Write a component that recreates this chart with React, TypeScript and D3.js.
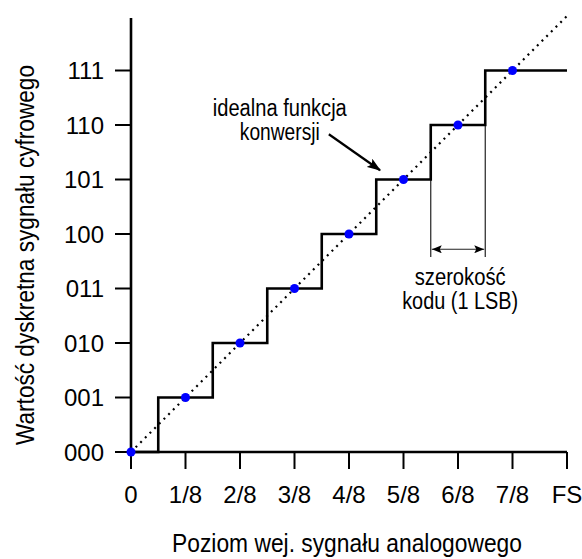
import React from "react";
import * as d3 from "d3";

const xTickLabels = ["0", "1/8", "2/8", "3/8", "4/8", "5/8", "6/8", "7/8", "FS"];
const yTickLabels = ["000", "001", "010", "011", "100", "101", "110", "111"];
const idealCodes = [0, 1, 2, 3, 4, 5, 6, 7];
const transitions = [0.5, 1.5, 2.5, 3.5, 4.5, 5.5, 6.5];
const fullScale = 8;

const xTitle = "Poziom wej. sygnału analogowego";
const yTitle = "Wartość dyskretna sygnału cyfrowego";
const annotLines = ["idealna funkcja", "konwersji"];
const widthLines = ["szerokość", "kodu (1 LSB)"];

const W = 582;
const H = 559;
const FONT = "'Liberation Sans Narrow', 'Liberation Sans', Arial, sans-serif";
const TICKFONT = "'Liberation Sans', Arial, sans-serif";

export default function App() {
  const x = d3.scaleLinear().domain([0, fullScale]).range([131, 567]);
  const y = d3.scaleLinear().domain([0, fullScale]).range([452, 16]);

  const stairPts: [number, number][] = [[0, 0]];
  transitions.forEach((t, i) => stairPts.push([t, i + 1]));
  stairPts.push([fullScale, idealCodes[idealCodes.length - 1]]);
  const stair = d3
    .line<[number, number]>()
    .x((d) => x(d[0]))
    .y((d) => y(d[1]))
    .curve(d3.curveStepAfter)(stairPts);

  const ideal = d3
    .line<[number, number]>()
    .x((d) => x(d[0]))
    .y((d) => y(d[1]))([
    [0, 0],
    [fullScale, fullScale],
  ]);

  const t5 = transitions[5];
  const t6 = transitions[6];

  return (
    <svg
      width={W}
      height={H}
      style={{ position: "absolute", left: 0, top: 0, background: "#fff" }}
      fontFamily={FONT}
    >
      <defs>
        <marker id="bigArrow" viewBox="0 0 14 10" refX="13" refY="5" markerWidth="14" markerHeight="10" markerUnits="userSpaceOnUse" orient="auto">
          <path d="M0,0 L14,5 L0,10 L3,5 Z" fill="#000" />
        </marker>
        <marker id="smallArrowEnd" viewBox="0 0 10 8" refX="10" refY="4" markerWidth="10" markerHeight="8" markerUnits="userSpaceOnUse" orient="auto">
          <path d="M0,0 L10,4 L0,8 L2,4 Z" fill="#000" />
        </marker>
        <marker id="smallArrowStart" viewBox="0 0 10 8" refX="0" refY="4" markerWidth="10" markerHeight="8" markerUnits="userSpaceOnUse" orient="auto">
          <path d="M10,0 L0,4 L10,8 L8,4 Z" fill="#000" />
        </marker>
      </defs>

      {/* ideal dotted line */}
      <path d={ideal || ""} stroke="#000" strokeWidth={2.2} strokeDasharray="2,4.6" fill="none" />

      {/* width indicator thin lines */}
      <line x1={x(t5)} x2={x(t5)} y1={y(5)} y2={y(3.58)} stroke="#222" strokeWidth={1.2} />
      <line x1={x(t6)} x2={x(t6)} y1={y(6)} y2={y(3.58)} stroke="#222" strokeWidth={1.2} />
      <line
        x1={x(t5) + 1}
        x2={x(t6) - 1}
        y1={y(3.72)}
        y2={y(3.72)}
        stroke="#222"
        strokeWidth={1.2}
        markerStart="url(#smallArrowStart)"
        markerEnd="url(#smallArrowEnd)"
      />

      {/* staircase */}
      <path d={stair || ""} stroke="#000" strokeWidth={2.6} fill="none" />

      {/* axes */}
      <line x1={x(0)} x2={x(0)} y1={18} y2={y(0)} stroke="#000" strokeWidth={2.6} />
      <line x1={x(0)} x2={x(fullScale)} y1={y(0)} y2={y(0)} stroke="#000" strokeWidth={2.6} />

      {xTickLabels.map((lab, i) => (
        <g key={lab}>
          <line x1={x(i)} x2={x(i)} y1={y(0)} y2={y(0) + 17} stroke="#000" strokeWidth={2} />
          <text x={x(i)} y={503} textAnchor="middle" fontSize={24} fontFamily={TICKFONT}>
            {lab}
          </text>
        </g>
      ))}
      {yTickLabels.map((lab, i) => (
        <g key={lab}>
          <line x1={x(0) - 16} x2={x(0)} y1={y(i)} y2={y(i)} stroke="#000" strokeWidth={2} />
          <text x={104} y={y(i) + 8.5} textAnchor="end" fontSize={24} fontFamily={TICKFONT}>
            {lab}
          </text>
        </g>
      ))}

      {/* ideal points */}
      {idealCodes.map((k) => (
        <circle key={k} cx={x(k)} cy={y(k)} r={4.5} fill="#0000ff" />
      ))}

      {/* annotation: ideal function */}
      <text x={x(2.73)} y={y(6.16)} textAnchor="middle" fontSize={23} textLength={134} lengthAdjust="spacingAndGlyphs">
        {annotLines[0]}
      </text>
      <text x={x(2.73)} y={y(5.72)} textAnchor="middle" fontSize={23} textLength={80} lengthAdjust="spacingAndGlyphs">
        {annotLines[1]}
      </text>
      <line x1={x(3.63)} y1={y(5.83)} x2={x(4.57)} y2={y(5.17)} stroke="#000" strokeWidth={2.2} markerEnd="url(#bigArrow)" />

      {/* annotation: code width */}
      <text x={x(6.04)} y={285} textAnchor="middle" fontSize={23} textLength={91} lengthAdjust="spacingAndGlyphs">
        {widthLines[0]}
      </text>
      <text x={x(6.04)} y={309} textAnchor="middle" fontSize={23} textLength={116} lengthAdjust="spacingAndGlyphs">
        {widthLines[1]}
      </text>

      {/* axis titles */}
      <text x={347} y={552} textAnchor="middle" fontSize={26} textLength={350} lengthAdjust="spacingAndGlyphs">
        {xTitle}
      </text>
      <text
        transform={`translate(34,255) rotate(-90)`}
        textAnchor="middle"
        fontSize={26}
        textLength={380}
        lengthAdjust="spacingAndGlyphs"
      >
        {yTitle}
      </text>
    </svg>
  );
}
